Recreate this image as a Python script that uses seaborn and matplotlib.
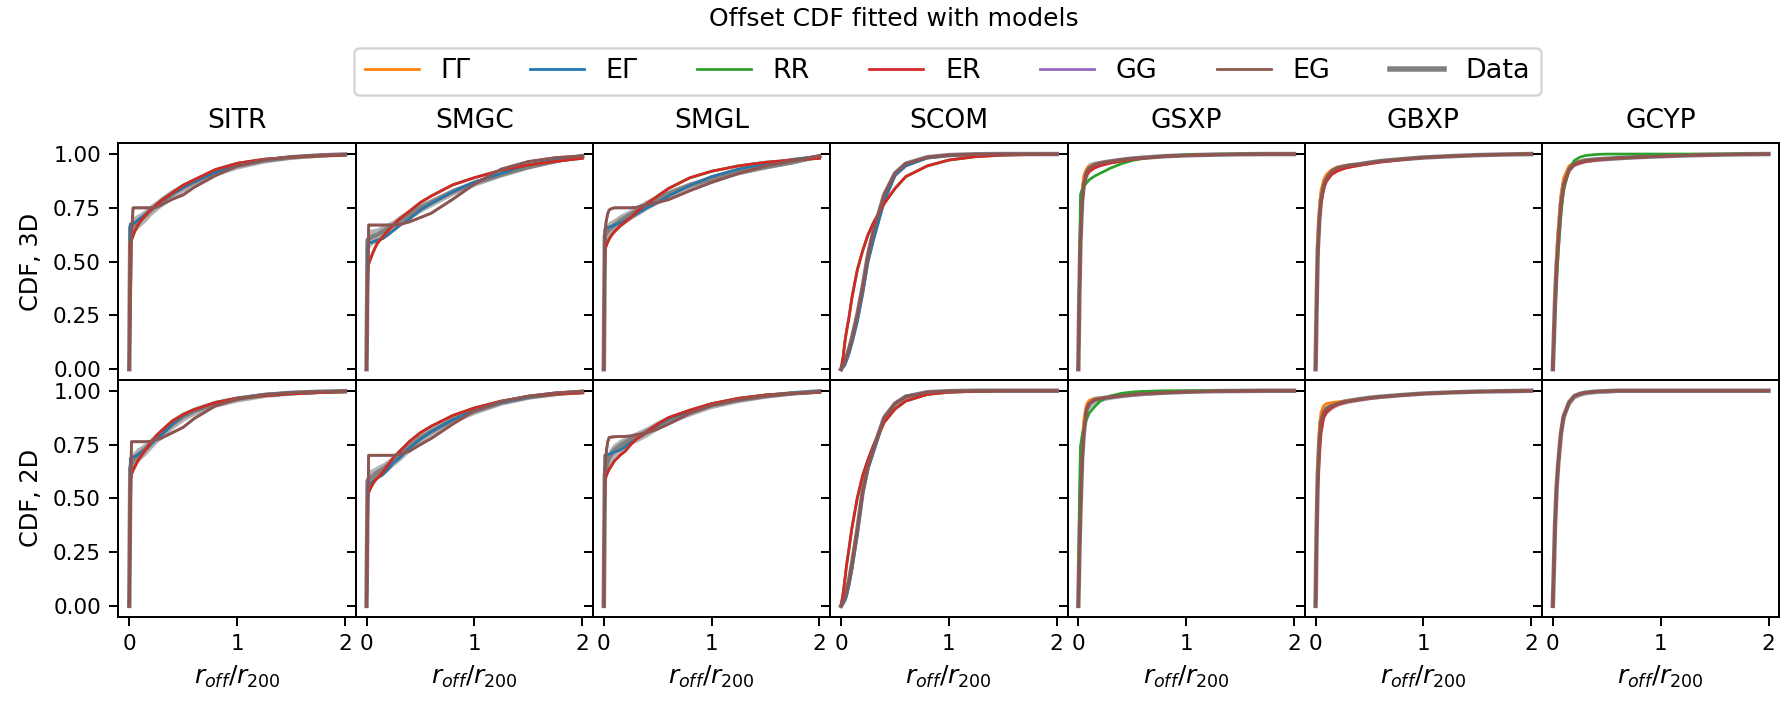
import numpy as np
import pandas as pd
import matplotlib
matplotlib.use("Agg")
import matplotlib.pyplot as plt
from matplotlib.lines import Line2D
import seaborn as sns

# ---------------- data ----------------
XG = [0, 0.01, 0.02, 0.035, 0.05, 0.075, 0.1, 0.15, 0.2, 0.25, 0.3, 0.4, 0.5, 0.6, 0.8, 1.0, 1.25, 1.5, 1.75, 2.0]

COLUMNS = ["SITR", "SMGC", "SMGL", "SCOM", "GSXP", "GBXP", "GCYP"]
ROWS = ["3D", "2D"]
MODELS = ["ΓΓ", "EΓ", "RR", "ER", "GG", "EG"]
MODEL_COLORS = ["#ff7f0e", "#1f77b4", "#2ca02c", "#d62728", "#9467bd", "#8c564b"]

# half-width of the grey band of data realisations
SPREAD_S = [0, .045, .045, .04, .037, .035, .032, .03, .027, .025, .025, .024, .022, .02, .017, .015, .012, .01, .008, .005]
SPREAD_C = [0, .01, .012, .015, .018, .022, .025, .028, .028, .027, .025, .02, .015, .01, .006, .004, .002, .001, 0, 0]
SPREAD_G = [0, .06, .07, .06, .05, .035, .026, .018, .014, .012, .011, .01, .009, .008, .006, .005, .004, .003, .001, 0]

# ---- 3D row ----
SITR_3D_DATA = [0, .66, .665, .67, .675, .685, .695, .715, .74, .76, .78, .815, .845, .87, .915, .945, .97, .985, .993, .998]
SITR_3D_EGAM = [0, .675, .675, .677, .68, .69, .70, .72, .742, .762, .78, .815, .845, .871, .915, .945, .972, .987, .994, .998]
SITR_3D_ER = [0, .58, .60, .62, .64, .665, .685, .715, .742, .763, .785, .82, .855, .88, .928, .957, .976, .985, .991, .995]
SITR_3D_EG = [0, .30, .60, .75, .75, .75, .75, .75, .75, .752, .765, .79, .81, .845, .90, .945, .972, .987, .994, .998]

SMGC_3D_DATA = [0, .60, .605, .61, .615, .62, .625, .64, .655, .67, .69, .72, .75, .775, .825, .865, .905, .94, .967, .99]
SMGC_3D_EGAM = [0, .58, .585, .588, .59, .595, .60, .607, .625, .645, .665, .70, .74, .77, .825, .87, .91, .95, .975, .99]
SMGC_3D_ER = [0, .45, .49, .51, .53, .56, .585, .615, .645, .67, .695, .735, .775, .805, .857, .89, .925, .949, .966, .98]
SMGC_3D_EG = [0, .35, .67, .67, .67, .67, .67, .67, .67, .67, .672, .685, .705, .725, .79, .86, .93, .965, .983, .992]

SMGL_3D_DATA = [0, .62, .63, .64, .65, .66, .67, .69, .705, .72, .735, .765, .79, .815, .855, .885, .915, .94, .962, .99]
SMGL_3D_EGAM = [0, .65, .655, .658, .66, .665, .67, .68, .69, .705, .72, .75, .775, .805, .855, .895, .93, .955, .975, .99]
SMGL_3D_ER = [0, .55, .57, .59, .605, .625, .64, .665, .685, .705, .73, .77, .805, .84, .89, .92, .945, .962, .972, .98]
SMGL_3D_EG = [0, .62, .68, .72, .74, .747, .75, .75, .75, .75, .752, .765, .775, .788, .83, .868, .91, .945, .968, .992]

SCOM_3D_DATA = [0, .01, .02, .035, .055, .095, .14, .25, .38, .53, .64, .81, .91, .955, .985, .995, .999, 1, 1, 1]
SCOM_3D_EGAM = [0, .005, .01, .02, .04, .075, .12, .22, .35, .50, .60, .78, .90, .945, .982, .993, .998, 1, 1, 1]
SCOM_3D_ER = [0, .03, .06, .125, .175, .245, .33, .46, .55, .625, .68, .77, .84, .895, .945, .972, .988, .995, .998, 1]

GSXP_3D_DATA = [0, .35, .60, .78, .86, .915, .935, .95, .957, .962, .966, .973, .979, .983, .99, .994, .997, .999, 1, 1]
GSXP_3D_GAMGAM = [0, .38, .65, .82, .90, .93, .942, .952, .958, .963, .967, .973, .979, .983, .99, .994, .997, .999, 1, 1]
GSXP_3D_RR = [0, .40, .81, .835, .85, .865, .88, .897, .91, .922, .935, .955, .97, .98, .99, .996, .999, 1, 1, 1]
GSXP_3D_ER = [0, .33, .58, .77, .85, .90, .92, .935, .945, .952, .958, .967, .975, .981, .989, .994, .997, .999, 1, 1]

GBXP_3D_DATA = [0, .30, .55, .70, .79, .855, .887, .92, .935, .941, .946, .952, .96, .967, .976, .984, .99, .995, .998, 1]
GBXP_3D_GAMGAM = [0, .33, .60, .75, .83, .88, .905, .928, .938, .943, .947, .953, .96, .967, .976, .984, .99, .995, .998, 1]
GBXP_3D_ER = [0, .28, .52, .68, .77, .84, .875, .905, .92, .93, .937, .947, .955, .963, .974, .983, .99, .995, .998, 1]

GCYP_3D_DATA = [0, .15, .31, .48, .60, .77, .86, .93, .955, .963, .97, .975, .978, .981, .986, .99, .994, .997, .999, 1]
GCYP_3D_GAMGAM = [0, .17, .35, .53, .65, .81, .89, .945, .96, .965, .97, .975, .978, .981, .986, .99, .994, .997, .999, 1]
GCYP_3D_RR = [0, .12, .25, .42, .55, .72, .83, .93, .97, .985, .993, .998, 1, 1, 1, 1, 1, 1, 1, 1]
GCYP_3D_ER = [0, .15, .30, .47, .59, .76, .85, .925, .95, .958, .965, .972, .977, .981, .986, .99, .994, .997, .999, 1]

# ---- 2D row ----
SITR_2D_DATA = [0, .64, .66, .675, .685, .70, .71, .73, .755, .78, .80, .845, .88, .905, .94, .962, .98, .99, .995, .998]
SITR_2D_EGAM = [0, .685, .688, .69, .695, .70, .71, .725, .75, .775, .795, .845, .885, .91, .945, .965, .983, .992, .996, .998]
SITR_2D_ER = [0, .58, .61, .63, .645, .67, .69, .725, .76, .79, .815, .86, .89, .912, .945, .964, .977, .985, .991, .995]
SITR_2D_EG = [0, .40, .763, .763, .763, .763, .763, .763, .765, .772, .78, .805, .83, .87, .93, .96, .982, .99, .995, .998]

SMGC_2D_DATA = [0, .58, .59, .595, .60, .61, .62, .635, .655, .675, .695, .74, .78, .81, .865, .905, .945, .97, .985, .995]
SMGC_2D_EGAM = [0, .565, .567, .57, .575, .585, .595, .61, .635, .665, .685, .735, .775, .81, .865, .91, .945, .97, .985, .995]
SMGC_2D_ER = [0, .50, .528, .545, .56, .58, .595, .62, .655, .69, .715, .765, .805, .835, .885, .92, .952, .974, .985, .99]
SMGC_2D_EG = [0, .40, .70, .70, .70, .70, .70, .70, .70, .70, .703, .72, .75, .778, .845, .907, .95, .975, .99, .998]

SMGL_2D_DATA = [0, .61, .64, .67, .69, .71, .725, .745, .76, .775, .785, .81, .84, .865, .90, .932, .957, .975, .988, .997]
SMGL_2D_EGAM = [0, .70, .70, .702, .705, .71, .715, .725, .74, .76, .775, .805, .84, .87, .905, .938, .963, .98, .99, .998]
SMGL_2D_ER = [0, .58, .60, .62, .635, .655, .675, .70, .72, .75, .775, .81, .845, .875, .91, .94, .965, .98, .987, .992]
SMGL_2D_EG = [0, .62, .70, .76, .783, .785, .786, .787, .788, .79, .795, .805, .822, .845, .895, .932, .958, .975, .986, .995]

SCOM_2D_DATA = [0, .01, .02, .04, .065, .12, .19, .35, .53, .65, .73, .875, .94, .972, .993, .998, 1, 1, 1, 1]
SCOM_2D_EGAM = [0, .005, .012, .025, .045, .10, .17, .33, .52, .64, .714, .87, .94, .975, .993, .998, 1, 1, 1, 1]
SCOM_2D_ER = [0, .03, .06, .12, .185, .27, .36, .50, .605, .68, .745, .853, .915, .952, .983, .993, .998, 1, 1, 1]

GSXP_2D_DATA = [0, .25, .45, .68, .80, .91, .94, .958, .963, .967, .971, .977, .982, .986, .991, .995, .998, .999, 1, 1]
GSXP_2D_GAMGAM = [0, .28, .52, .75, .86, .935, .955, .962, .965, .968, .971, .977, .982, .986, .991, .995, .998, .999, 1, 1]
GSXP_2D_RR = [0, .50, .74, .79, .825, .865, .895, .925, .95, .965, .976, .988, .994, .997, 1, 1, 1, 1, 1, 1]

GBXP_2D_DATA = [0, .35, .60, .77, .86, .90, .915, .93, .94, .947, .952, .96, .967, .972, .98, .987, .992, .996, .998, 1]
GBXP_2D_GAMGAM = [0, .38, .66, .83, .90, .93, .94, .945, .948, .951, .954, .96, .967, .972, .98, .987, .992, .996, .998, 1]
GBXP_2D_ER = [0, .32, .55, .70, .80, .875, .90, .922, .935, .943, .95, .958, .965, .971, .979, .986, .992, .996, .998, 1]

GCYP_2D_DATA = [0, .18, .37, .55, .66, .80, .88, .945, .975, .985, .991, .996, .998, 1, 1, 1, 1, 1, 1, 1]

# panel table: (data, spread, [ΓΓ, EΓ, RR, ER, GG, EG])
PANELS = {
    ("SITR", "3D"): (SITR_3D_DATA, SPREAD_S, [SITR_3D_EGAM, SITR_3D_EGAM, SITR_3D_ER, SITR_3D_ER, SITR_3D_EG, SITR_3D_EG]),
    ("SMGC", "3D"): (SMGC_3D_DATA, SPREAD_S, [SMGC_3D_EGAM, SMGC_3D_EGAM, SMGC_3D_ER, SMGC_3D_ER, SMGC_3D_EG, SMGC_3D_EG]),
    ("SMGL", "3D"): (SMGL_3D_DATA, SPREAD_S, [SMGL_3D_EGAM, SMGL_3D_EGAM, SMGL_3D_ER, SMGL_3D_ER, SMGL_3D_EG, SMGL_3D_EG]),
    ("SCOM", "3D"): (SCOM_3D_DATA, SPREAD_C, [SCOM_3D_EGAM, SCOM_3D_EGAM, SCOM_3D_ER, SCOM_3D_ER, SCOM_3D_DATA, SCOM_3D_DATA]),
    ("GSXP", "3D"): (GSXP_3D_DATA, SPREAD_G, [GSXP_3D_GAMGAM, GSXP_3D_DATA, GSXP_3D_RR, GSXP_3D_ER, GSXP_3D_DATA, GSXP_3D_DATA]),
    ("GBXP", "3D"): (GBXP_3D_DATA, SPREAD_G, [GBXP_3D_GAMGAM, GBXP_3D_DATA, GBXP_3D_DATA, GBXP_3D_ER, GBXP_3D_DATA, GBXP_3D_DATA]),
    ("GCYP", "3D"): (GCYP_3D_DATA, SPREAD_G, [GCYP_3D_GAMGAM, GCYP_3D_DATA, GCYP_3D_RR, GCYP_3D_ER, GCYP_3D_DATA, GCYP_3D_DATA]),
    ("SITR", "2D"): (SITR_2D_DATA, SPREAD_S, [SITR_2D_EGAM, SITR_2D_EGAM, SITR_2D_ER, SITR_2D_ER, SITR_2D_EG, SITR_2D_EG]),
    ("SMGC", "2D"): (SMGC_2D_DATA, SPREAD_S, [SMGC_2D_EGAM, SMGC_2D_EGAM, SMGC_2D_ER, SMGC_2D_ER, SMGC_2D_EG, SMGC_2D_EG]),
    ("SMGL", "2D"): (SMGL_2D_DATA, SPREAD_S, [SMGL_2D_EGAM, SMGL_2D_EGAM, SMGL_2D_ER, SMGL_2D_ER, SMGL_2D_EG, SMGL_2D_EG]),
    ("SCOM", "2D"): (SCOM_2D_DATA, SPREAD_C, [SCOM_2D_EGAM, SCOM_2D_EGAM, SCOM_2D_ER, SCOM_2D_ER, SCOM_2D_DATA, SCOM_2D_DATA]),
    ("GSXP", "2D"): (GSXP_2D_DATA, SPREAD_G, [GSXP_2D_GAMGAM, GSXP_2D_DATA, GSXP_2D_RR, GSXP_2D_DATA, GSXP_2D_DATA, GSXP_2D_DATA]),
    ("GBXP", "2D"): (GBXP_2D_DATA, SPREAD_G, [GBXP_2D_GAMGAM, GBXP_2D_DATA, GBXP_2D_DATA, GBXP_2D_ER, GBXP_2D_DATA, GBXP_2D_DATA]),
    ("GCYP", "2D"): (GCYP_2D_DATA, SPREAD_G, [GCYP_2D_DATA] * 6),
}

# ---------------- figure ----------------
DPI = 180
fig, axes = plt.subplots(2, 7, figsize=(1787 / DPI, 701 / DPI), dpi=DPI,
                         sharex=True, sharey=True,
                         gridspec_kw=dict(wspace=0, hspace=0))
fig.subplots_adjust(left=0.0663, right=0.9957, top=0.7956, bottom=0.1203)

MODEL_LW = 1.1
for r, row in enumerate(ROWS):
    for c, col in enumerate(COLUMNS):
        ax = axes[r, c]
        data, spread, models = PANELS[(col, row)]
        d = np.array(data)
        s = np.array(spread)
        lo = np.clip(d - s, 0, 1)
        hi = np.clip(d + s, 0, 1)
        df = pd.DataFrame({
            "x": np.concatenate([XG, XG, XG]),
            "y": np.concatenate([lo, d, hi]),
        })
        sns.lineplot(data=df, x="x", y="y", estimator="median",
                     errorbar=("pi", 100), color="gray", lw=1.8,
                     err_kws=dict(alpha=0.6, lw=0), ax=ax)
        for name, arr, colr in zip(MODELS, models, MODEL_COLORS):
            sns.lineplot(x=XG, y=arr, color=colr, lw=MODEL_LW, ax=ax)
        ax.set_xlabel("")
        ax.set_ylabel("")
        ax.tick_params(labelsize=8.6)

for c, col in enumerate(COLUMNS):
    axes[0, c].set_title(col, fontsize=10.6, pad=6)
    axes[1, c].set_xlabel(r"$r_{off}/r_{200}$", fontsize=10)
axes[0, 0].set_ylabel("CDF, 3D", fontsize=9.6)
axes[1, 0].set_ylabel("CDF, 2D", fontsize=9.6)
axes[1, 0].set_xticks([0, 1, 2])
axes[1, 0].set_yticks([0, 0.25, 0.5, 0.75, 1.0])

handles = [Line2D([], [], color=cc, lw=MODEL_LW) for cc in MODEL_COLORS]
handles.append(Line2D([], [], color="gray", lw=2.2))
labels = MODELS + ["Data"]
fig.legend(handles, labels, loc="upper center", bbox_to_anchor=(0.5302, 0.932),
           ncol=7, fontsize=10.8, columnspacing=2.2, borderaxespad=0, frameon=True)
fig.suptitle("Offset CDF fitted with models", y=0.99, va="top", fontsize=10)

fig.savefig("out.png", dpi=DPI)
